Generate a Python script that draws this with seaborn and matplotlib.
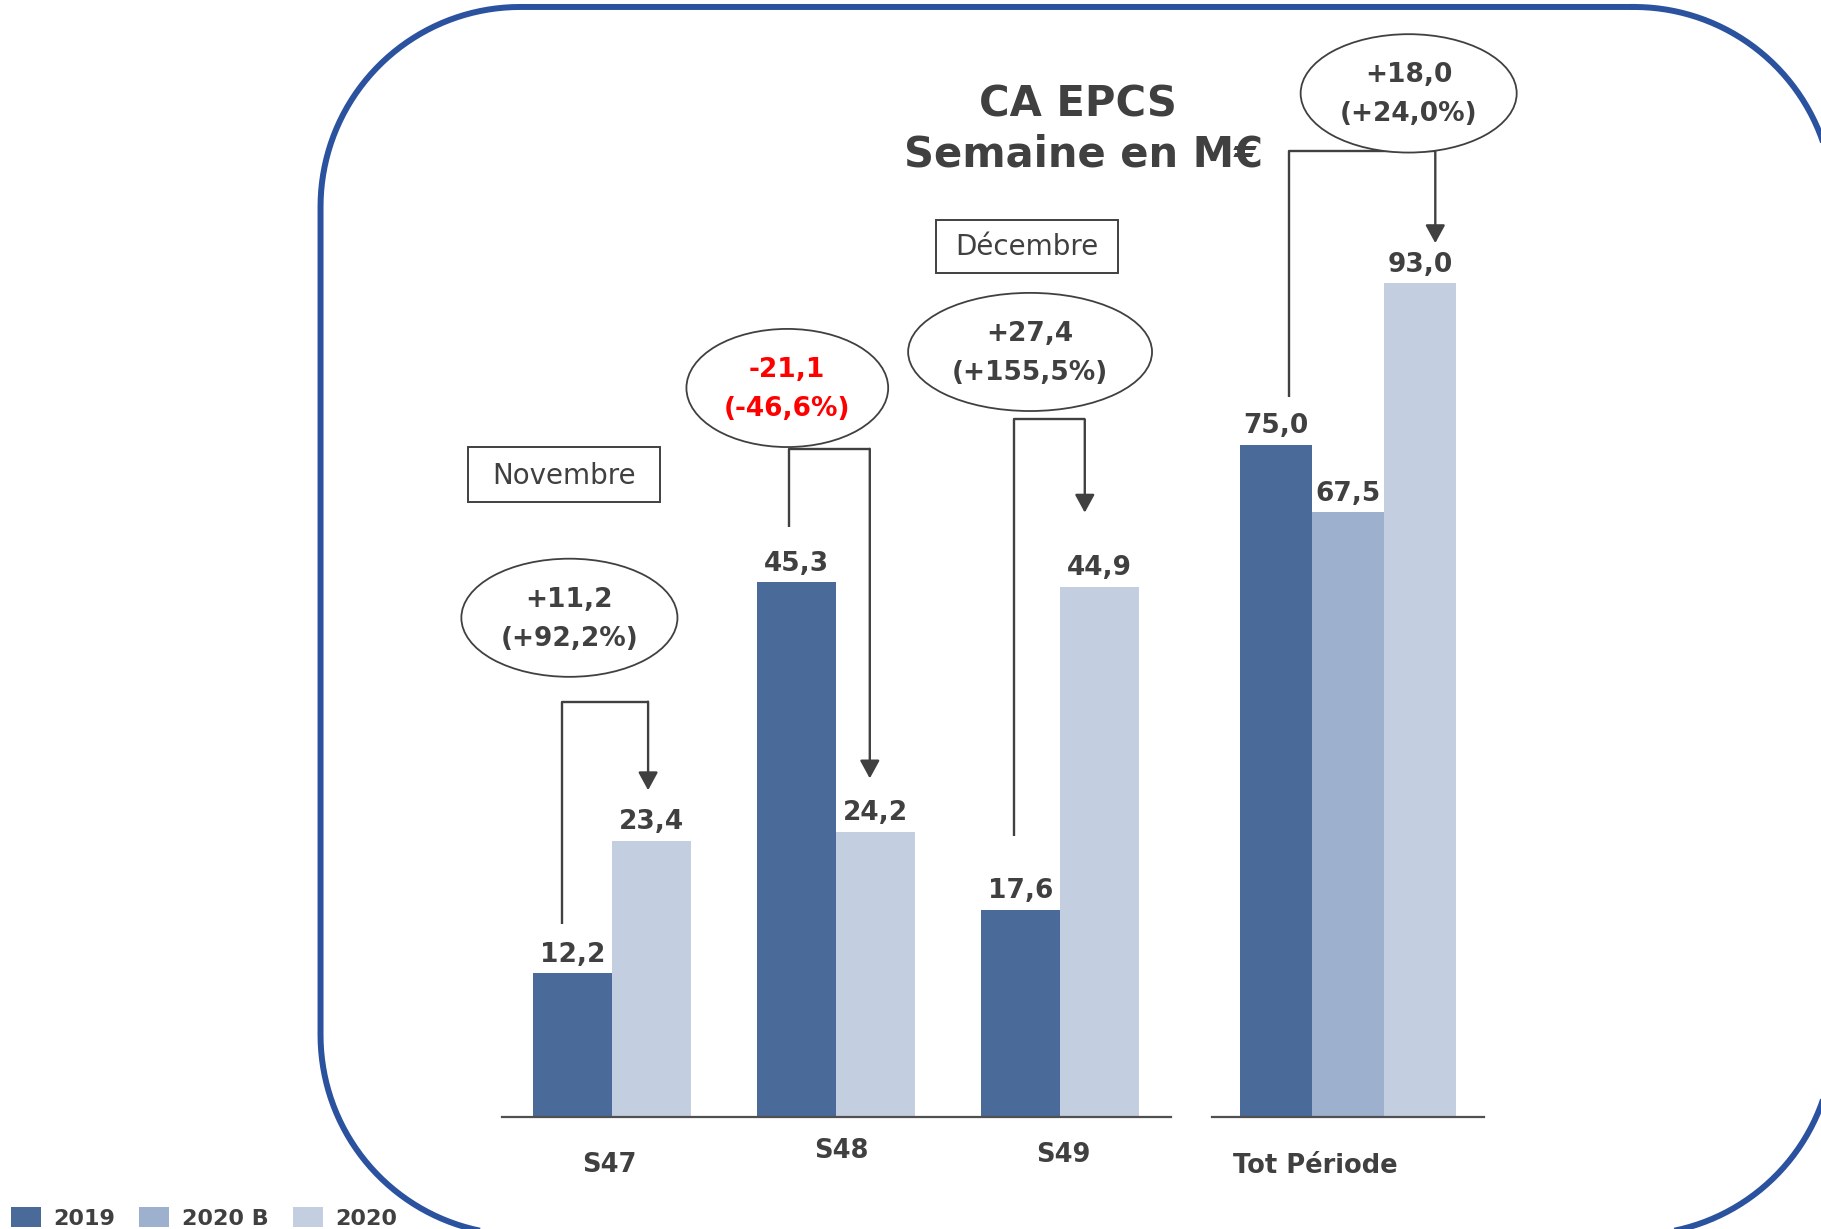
# CA EPCS - ventes semaine en M€ (S47 à S49 + total période)

import numpy as np
import pandas as pd
import matplotlib
matplotlib.use("Agg")
import matplotlib.pyplot as plt
import seaborn as sns
from matplotlib.patches import Ellipse, Rectangle, Patch

# Data
weeks = ["S47", "S48", "S49"]
sales_2019 = [12.2, 45.3, 17.6]
sales_2020 = [23.4, 24.2, 44.9]

total_label = "Tot Période"
total_series = ["2019", "2020 B", "2020"]
total_values = [75.0, 67.5, 93.0]

week_delta = ["+11,2", "-21,1", "+27,4"]
week_pct = ["(+92,2%)", "(-46,6%)", "(+155,5%)"]
total_delta = "+18,0"
total_pct = "(+24,0%)"

series_colors = {"2019": "#4A6A99", "2020 B": "#9DB0CE", "2020": "#C3CEE1"}
dark = "#404040"

weekly = pd.DataFrame({
    "Semaine": weeks * 2,
    "Série": ["2019"] * 3 + ["2020"] * 3,
    "CA": sales_2019 + sales_2020,
})
total = pd.DataFrame({
    "Semaine": [total_label] * 3,
    "Série": total_series,
    "CA": total_values,
})


def fmt(v):
    return f"{v:.1f}".replace(".", ",")


def rounded_rect(x0, y0, x1, y1, r, n=40):
    # outline of a rounded rectangle (y grows downward)
    pts = []
    corners = [(x1 - r, y0 + r, -90, 0), (x1 - r, y1 - r, 0, 90),
               (x0 + r, y1 - r, 90, 180), (x0 + r, y0 + r, 180, 270)]
    for cx, cy, a0, a1 in corners:
        t = np.radians(np.linspace(a0, a1, n))
        pts += list(zip(cx + r * np.cos(t), cy + r * np.sin(t)))
    pts.append(pts[0])
    return np.array(pts)


fig = plt.figure(figsize=(18.21, 12.29), dpi=100)

# background layer in reference pixel space: frame, title, month boxes
bg = fig.add_axes([0, 0, 1, 1], zorder=0)
bg.set_xlim(0, 1568)
bg.set_ylim(1058, 0)
bg.axis("off")

outline = rounded_rect(276, 6, 1579, 1063, 172)
bg.plot(outline[:, 0], outline[:, 1], color="#2A529E", lw=4.3)
bg.set_xlim(0, 1568)
bg.set_ylim(1058, 0)

bg.text(928, 90, "CA EPCS", ha="center", va="center",
        fontsize=30, fontweight="bold", color=dark)
bg.text(933, 133, "Semaine en M€", ha="center", va="center",
        fontsize=30, fontweight="bold", color=dark)

for (x, y, w, h), txt in [((403, 385, 165, 47), "Novembre"),
                          ((806, 189, 157, 46), "Décembre")]:
    bg.add_patch(Rectangle((x, y), w, h, fill=False, edgecolor=dark, linewidth=1.4))
    bg.text(x + w / 2, y + h / 2 + 1, txt, ha="center", va="center",
            fontsize=20, color=dark)

# bar axes
bottom = 1 - 962 / 1058
height = 962 / 1058
ax1 = fig.add_axes([432 / 1568, bottom, 576 / 1568, height], zorder=1)
ax2 = fig.add_axes([1044 / 1568, bottom, 234 / 1568, height], zorder=1)

sns.barplot(data=weekly, x="Semaine", y="CA", hue="Série",
            hue_order=["2019", "2020"],
            palette=[series_colors["2019"], series_colors["2020"]],
            saturation=1, width=0.705, gap=0, linewidth=0, errorbar=None, ax=ax1)
sns.barplot(data=total, x="Semaine", y="CA", hue="Série",
            hue_order=total_series,
            palette=[series_colors[s] for s in total_series],
            saturation=1, width=0.795, gap=0, linewidth=0, errorbar=None, ax=ax2)

ax1.set_xlim(-0.492, 2.492)
ax1.set_ylim(0, 962 / 10.17)
ax2.set_xlim(-0.5, 0.5)
ax2.set_ylim(0, 962 / 7.72)

for ax in (ax1, ax2):
    ax.patch.set_alpha(0)
    if ax.get_legend() is not None:
        ax.get_legend().remove()
    for side in ("top", "right", "left"):
        ax.spines[side].set_visible(False)
    ax.spines["bottom"].set_color("#505050")
    ax.spines["bottom"].set_linewidth(1.6)
    ax.set_xticks([])
    ax.set_yticks([])
    ax.set_xlabel("")
    ax.set_ylabel("")
    for cont in ax.containers:
        ax.bar_label(cont, labels=[fmt(v) for v in cont.datavalues], padding=4,
                     fontsize=19, fontweight="bold", color=dark)

# category labels under the axis line
cat_offsets = [(-2, -34), (4, -24), (2, -27)]
for i, (w, (dx, dy)) in enumerate(zip(weeks, cat_offsets)):
    ax1.annotate(w, xy=(i, 0), xytext=(dx, dy), textcoords="offset points",
                 ha="center", va="center", fontsize=18.5, fontweight="bold",
                 color=dark, annotation_clip=False)
ax2.annotate(total_label, xy=(0, 0), xytext=(-24, -35), textcoords="offset points",
             ha="center", va="center", fontsize=18.5, fontweight="bold",
             color=dark, annotation_clip=False)

# bracket arrows + bubbles
arrow_kw = dict(arrowstyle="-|>,head_length=0.55,head_width=0.3",
                mutation_scale=20, color=dark, lw=1.7, shrinkA=0, shrinkB=0)


def bracket(ax, x_left, y_left, x_right, y_tip, y_top):
    ax.plot([x_left, x_left, x_right], [y_left, y_top, y_top],
            color=dark, lw=1.7, clip_on=False, solid_capstyle="butt")
    ax.annotate("", xy=(x_right, y_tip), xytext=(x_right, y_top),
                arrowprops=arrow_kw, annotation_clip=False)


def bubble(ax, cx, cy, w, h, line1, line2, color):
    ax.add_patch(Ellipse((cx, cy), w, h, facecolor="white", edgecolor=dark,
                         linewidth=1.3, clip_on=False, zorder=3))
    for txt, dy in [(line1, 13), (line2, -15)]:
        ax.annotate(txt, xy=(cx, cy), xytext=(0, dy), textcoords="offset points",
                    ha="center", va="center", fontsize=19, fontweight="bold",
                    color=color, zorder=4, annotation_clip=False)


bracket_x = [(-0.223, 0.161), (0.788, 1.150), (1.793, 2.109)]
bracket_y = [(16.4, 27.7, 35.2), (50.0, 28.7, 56.6), (23.8, 51.2, 59.1)]
bubble_pos = [(-0.19, 42.3, 0.964), (0.782, 61.75, 0.90), (1.865, 64.8, 1.088)]

for i in range(len(weeks)):
    (xl, xr), (yl, yt, ytop) = bracket_x[i], bracket_y[i]
    bracket(ax1, xl, yl, xr, yt, ytop)
    cx, cy, w = bubble_pos[i]
    col = "#FF0000" if week_delta[i].startswith("-") else dark
    bubble(ax1, cx, cy, w, 10.0, week_delta[i], week_pct[i], col)

bracket(ax2, -0.218, 80.3, 0.32, 97.5, 107.8)
bubble(ax2, 0.222, 114.2, 0.795, 13.2, total_delta, total_pct, dark)

# legend bottom left
handles = [Patch(facecolor=series_colors[s], edgecolor="none") for s in total_series]
fig.legend(handles, total_series, loc="lower left", bbox_to_anchor=(0.006, 0.0),
           ncol=3, frameon=False, prop=dict(weight="bold", size=16),
           labelcolor=dark, handlelength=1.35, handleheight=1.0,
           handletextpad=0.55, columnspacing=1.1, borderpad=0, borderaxespad=0)

fig.savefig("out.png", dpi=100)
